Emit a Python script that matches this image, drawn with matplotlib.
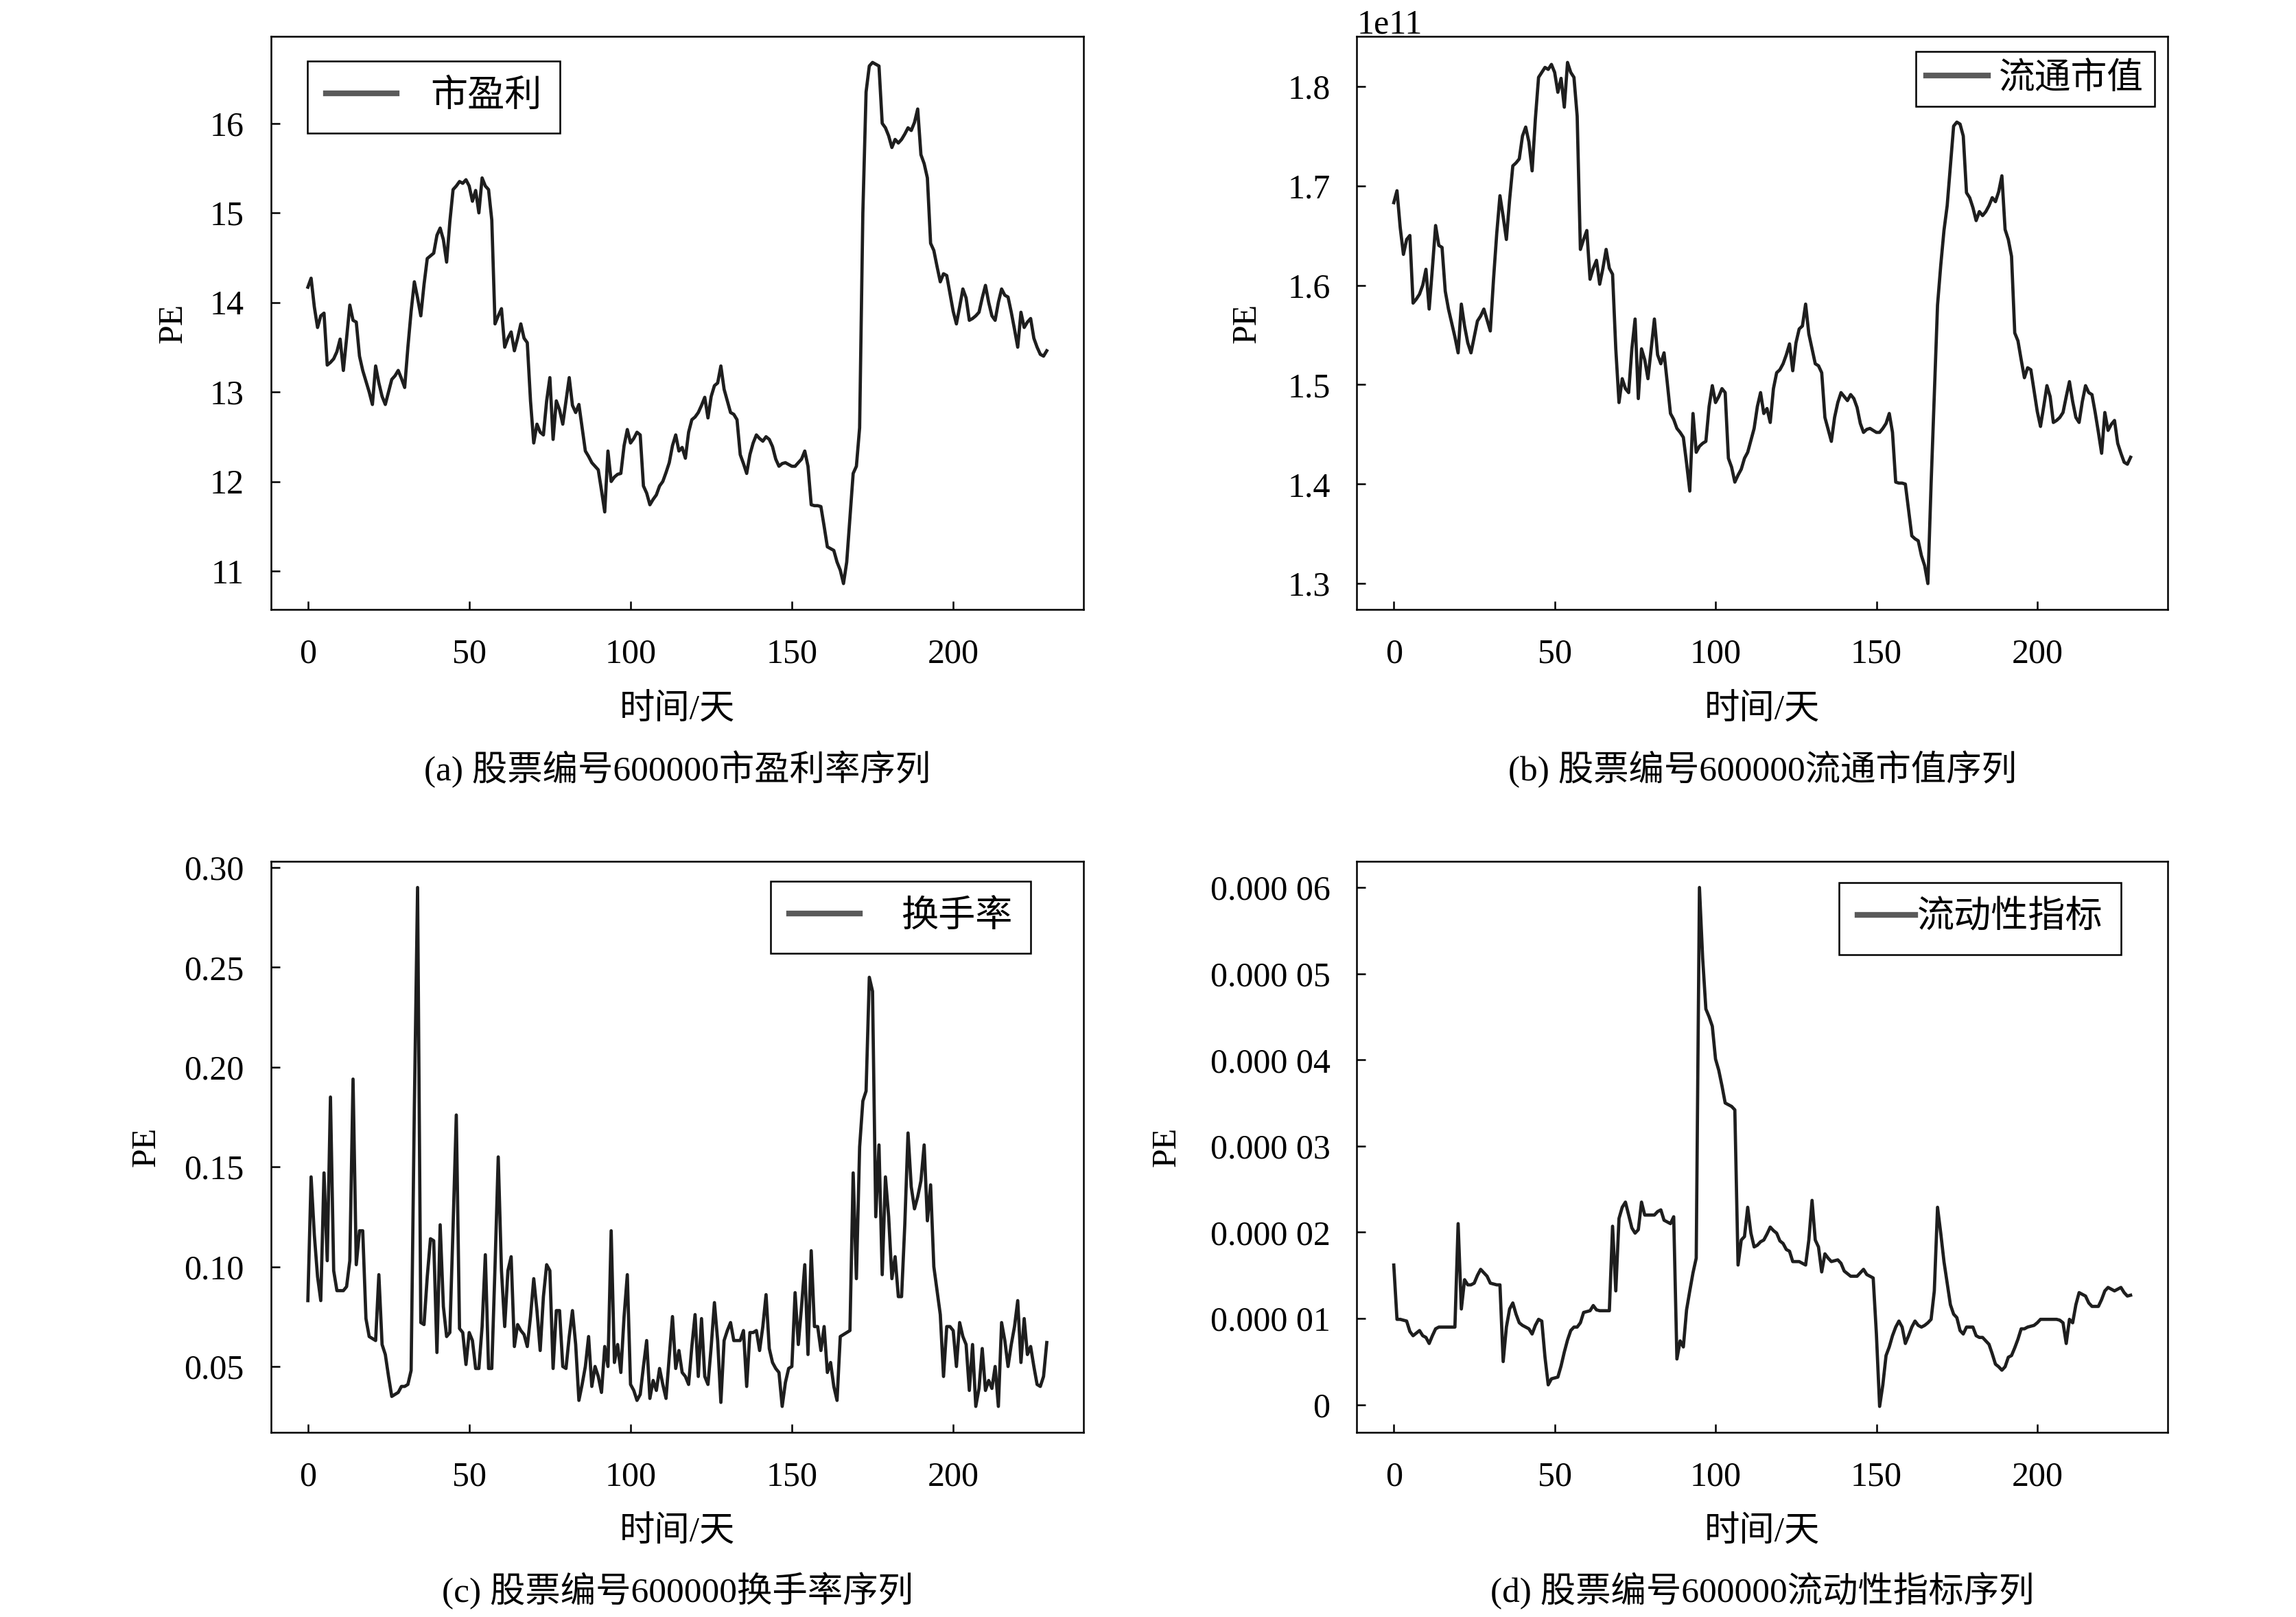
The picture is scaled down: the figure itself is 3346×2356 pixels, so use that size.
import matplotlib.pyplot as plt
import numpy as np
from matplotlib.lines import Line2D
from matplotlib.ticker import FuncFormatter, MultipleLocator

plt.rcParams['font.family'] = ['Liberation Serif', 'Noto Sans CJK SC']
plt.rcParams['axes.unicode_minus'] = False

FS = 36
CJK_FS = 37

# 市盈率 (PE), one value per trading day
pe = [
    14.17, 14.27, 13.95, 13.72, 13.85, 13.88, 13.30, 13.33, 13.37, 13.45,
    13.59, 13.24, 13.60, 13.97, 13.80, 13.78, 13.40, 13.24, 13.12, 13.00,
    12.86, 13.29, 13.10, 12.95, 12.86, 13.00, 13.14, 13.18, 13.24, 13.15,
    13.05, 13.50, 13.90, 14.23, 14.05, 13.85, 14.20, 14.49, 14.52, 14.55,
    14.75, 14.83, 14.70, 14.45, 14.90, 15.26, 15.30, 15.35, 15.33, 15.37,
    15.30, 15.13, 15.25, 15.00, 15.39, 15.30, 15.26, 14.92, 13.76, 13.85,
    13.93, 13.50, 13.60, 13.67, 13.46, 13.60, 13.76, 13.60, 13.55, 12.90,
    12.43, 12.64, 12.55, 12.52, 12.90, 13.16, 12.47, 12.90, 12.80, 12.64,
    12.90, 13.16, 12.85, 12.77, 12.86, 12.60, 12.34, 12.28, 12.21, 12.17,
    12.13, 11.90, 11.66, 12.34, 12.00, 12.05, 12.08, 12.09, 12.40, 12.58,
    12.43, 12.48, 12.55, 12.52, 11.95, 11.87, 11.74, 11.80, 11.85, 11.95,
    12.00, 12.10, 12.21, 12.40, 12.52, 12.34, 12.38, 12.26, 12.55, 12.69,
    12.72, 12.77, 12.85, 12.94, 12.71, 12.95, 13.07, 13.10, 13.29, 13.03,
    12.90, 12.77, 12.75, 12.69, 12.30, 12.20, 12.09, 12.30, 12.43, 12.52,
    12.48, 12.45, 12.50, 12.47, 12.39, 12.25, 12.17, 12.20, 12.21, 12.19,
    12.17, 12.17, 12.21, 12.25, 12.34, 12.17, 11.74, 11.73, 11.73, 11.72,
    11.50, 11.27, 11.25, 11.23, 11.10, 11.01, 10.86, 11.10, 11.60, 12.09,
    12.17, 12.60, 15.00, 16.35, 16.64, 16.68, 16.66, 16.64, 16.00, 15.95,
    15.86, 15.73, 15.82, 15.78, 15.82, 15.88, 15.95, 15.92, 16.01, 16.16,
    15.65, 15.55, 15.39, 14.66, 14.58, 14.40, 14.23, 14.32, 14.30, 14.10,
    13.90, 13.76, 13.95, 14.15, 14.05, 13.80, 13.82, 13.85, 13.89, 14.05,
    14.19, 14.00, 13.85, 13.80, 14.00, 14.15, 14.08, 14.06, 13.89, 13.70,
    13.50, 13.89, 13.72, 13.78, 13.82, 13.60, 13.50, 13.42, 13.40, 13.46,
]

# 流通市值, in units of 1e11
market_value_e11 = [
    1.683, 1.695, 1.658, 1.631, 1.646, 1.650, 1.582, 1.586, 1.591, 1.600,
    1.616, 1.576, 1.617, 1.660, 1.640, 1.638, 1.594, 1.576, 1.562, 1.548,
    1.532, 1.581, 1.559, 1.542, 1.532, 1.548, 1.564, 1.569, 1.576, 1.565,
    1.554, 1.606, 1.652, 1.690, 1.669, 1.646, 1.686, 1.720, 1.723, 1.727,
    1.750, 1.759, 1.744, 1.715, 1.767, 1.809, 1.814, 1.819, 1.817, 1.822,
    1.814, 1.794, 1.808, 1.779, 1.824, 1.814, 1.809, 1.770, 1.636, 1.646,
    1.655, 1.606, 1.617, 1.625, 1.601, 1.617, 1.636, 1.617, 1.611, 1.536,
    1.482, 1.506, 1.496, 1.492, 1.536, 1.566, 1.486, 1.536, 1.525, 1.506,
    1.536, 1.566, 1.530, 1.521, 1.532, 1.502, 1.471, 1.465, 1.456, 1.452,
    1.447, 1.421, 1.393, 1.471, 1.432, 1.438, 1.441, 1.443, 1.478, 1.499,
    1.482, 1.488, 1.496, 1.492, 1.426, 1.417, 1.402, 1.409, 1.415, 1.426,
    1.432, 1.444, 1.456, 1.478, 1.492, 1.471, 1.476, 1.462, 1.496, 1.512,
    1.515, 1.521, 1.530, 1.541, 1.514, 1.542, 1.556, 1.559, 1.581, 1.551,
    1.536, 1.521, 1.519, 1.512, 1.467, 1.455, 1.443, 1.467, 1.482, 1.492,
    1.488, 1.484, 1.490, 1.486, 1.477, 1.461, 1.452, 1.455, 1.456, 1.454,
    1.452, 1.452, 1.456, 1.461, 1.471, 1.452, 1.402, 1.401, 1.401, 1.400,
    1.374, 1.348, 1.345, 1.343, 1.328, 1.318, 1.300, 1.400, 1.490, 1.580,
    1.620, 1.655, 1.680, 1.720, 1.760, 1.764, 1.762, 1.750, 1.693, 1.688,
    1.678, 1.665, 1.674, 1.670, 1.674, 1.680, 1.688, 1.684, 1.694, 1.710,
    1.656, 1.646, 1.629, 1.552, 1.544, 1.525, 1.507, 1.517, 1.515, 1.494,
    1.473, 1.458, 1.478, 1.499, 1.488, 1.462, 1.464, 1.467, 1.472, 1.488,
    1.503, 1.483, 1.467, 1.462, 1.483, 1.499, 1.492, 1.490, 1.472, 1.452,
    1.431, 1.472, 1.454, 1.460, 1.464, 1.441, 1.431, 1.422, 1.420, 1.427,
]

# 换手率
turnover = [
    0.083, 0.145, 0.116, 0.095, 0.083, 0.147, 0.103, 0.185, 0.098, 0.088,
    0.088, 0.088, 0.090, 0.103, 0.194, 0.101, 0.118, 0.118, 0.074, 0.065,
    0.064, 0.063, 0.096, 0.061, 0.056, 0.045, 0.035, 0.036, 0.037, 0.040,
    0.040, 0.041, 0.048, 0.180, 0.290, 0.072, 0.071, 0.095, 0.114, 0.113,
    0.057, 0.121, 0.080, 0.065, 0.067, 0.120, 0.176, 0.069, 0.067, 0.051,
    0.067, 0.063, 0.049, 0.049, 0.070, 0.106, 0.049, 0.049, 0.100, 0.155,
    0.098, 0.070, 0.098, 0.105, 0.060, 0.071, 0.068, 0.066, 0.060, 0.075,
    0.094, 0.078, 0.058, 0.085, 0.101, 0.098, 0.049, 0.078, 0.078, 0.050,
    0.049, 0.065, 0.078, 0.061, 0.033, 0.041, 0.050, 0.065, 0.040, 0.050,
    0.045, 0.037, 0.060, 0.050, 0.118, 0.052, 0.061, 0.047, 0.075, 0.096,
    0.041, 0.038, 0.033, 0.036, 0.050, 0.063, 0.034, 0.043, 0.038, 0.049,
    0.041, 0.034, 0.055, 0.075, 0.049, 0.058, 0.047, 0.045, 0.041, 0.060,
    0.076, 0.045, 0.074, 0.045, 0.041, 0.060, 0.082, 0.063, 0.032, 0.063,
    0.068, 0.072, 0.063, 0.063, 0.063, 0.068, 0.040, 0.067, 0.067, 0.068,
    0.058, 0.070, 0.086, 0.059, 0.052, 0.049, 0.047, 0.030, 0.042, 0.049,
    0.050, 0.087, 0.061, 0.080, 0.101, 0.056, 0.108, 0.070, 0.070, 0.058,
    0.070, 0.047, 0.052, 0.040, 0.033, 0.065, 0.066, 0.067, 0.068, 0.147,
    0.094, 0.160, 0.183, 0.188, 0.245, 0.238, 0.125, 0.161, 0.096, 0.145,
    0.125, 0.094, 0.105, 0.085, 0.085, 0.121, 0.167, 0.140, 0.129, 0.135,
    0.143, 0.161, 0.123, 0.141, 0.100, 0.088, 0.076, 0.045, 0.070, 0.070,
    0.068, 0.050, 0.072, 0.065, 0.061, 0.038, 0.061, 0.030, 0.039, 0.059,
    0.038, 0.043, 0.039, 0.050, 0.030, 0.072, 0.063, 0.050, 0.061, 0.070,
    0.083, 0.052, 0.074, 0.056, 0.060, 0.050, 0.041, 0.040, 0.045, 0.062,
]

# 流动性指标, in units of 1e-5
liquidity_e5 = [
    1.62, 0.99, 0.99, 0.98, 0.97, 0.85, 0.80, 0.83, 0.86, 0.80,
    0.78, 0.71, 0.80, 0.88, 0.90, 0.90, 0.90, 0.90, 0.90, 0.90,
    2.10, 1.11, 1.45, 1.39, 1.39, 1.41, 1.50, 1.57, 1.53, 1.49,
    1.41, 1.40, 1.39, 1.39, 0.50, 0.90, 1.11, 1.18, 1.05, 0.95,
    0.92, 0.90, 0.88, 0.82, 0.92, 0.99, 0.97, 0.55, 0.23, 0.30,
    0.31, 0.32, 0.45, 0.61, 0.75, 0.86, 0.90, 0.90, 0.95, 1.07,
    1.08, 1.09, 1.15, 1.10, 1.09, 1.09, 1.09, 1.09, 2.07, 1.32,
    2.16, 2.29, 2.35, 2.20, 2.05, 1.99, 2.03, 2.35, 2.20, 2.20,
    2.20, 2.20, 2.24, 2.26, 2.14, 2.12, 2.10, 2.18, 0.53, 0.74,
    0.67, 1.10, 1.32, 1.53, 1.70, 6.00, 5.18, 4.59, 4.50, 4.39,
    4.01, 3.88, 3.70, 3.50, 3.48, 3.46, 3.42, 1.62, 1.91, 1.95,
    2.29, 1.99, 1.83, 1.85, 1.89, 1.91, 1.98, 2.06, 2.02, 1.99,
    1.90, 1.87, 1.80, 1.78, 1.66, 1.66, 1.66, 1.64, 1.62, 1.91,
    2.37, 1.91, 1.83, 1.54, 1.75, 1.70, 1.66, 1.67, 1.68, 1.64,
    1.55, 1.52, 1.49, 1.49, 1.49, 1.53, 1.57, 1.51, 1.49, 1.47,
    0.82, -0.02, 0.23, 0.57, 0.67, 0.80, 0.90, 0.97, 0.90, 0.71,
    0.80, 0.90, 0.97, 0.92, 0.90, 0.92, 0.95, 0.99, 1.32, 2.29,
    1.99, 1.66, 1.41, 1.16, 1.05, 1.01, 0.86, 0.82, 0.90, 0.90,
    0.90, 0.80, 0.78, 0.78, 0.74, 0.70, 0.59, 0.47, 0.44, 0.40,
    0.44, 0.55, 0.57, 0.66, 0.76, 0.88, 0.88, 0.90, 0.91, 0.92,
    0.95, 0.99, 0.99, 0.99, 0.99, 0.99, 0.99, 0.98, 0.95, 0.71,
    0.99, 0.95, 1.16, 1.30, 1.28, 1.26, 1.18, 1.14, 1.14, 1.14,
    1.22, 1.32, 1.36, 1.34, 1.32, 1.34, 1.36, 1.30, 1.26, 1.27,
]

legend_labels = ['市盈利', '流通市值', '换手率', '流动性指标']
captions = ['(a) 股票编号600000市盈利率序列', '(b) 股票编号600000流通市值序列',
            '(c) 股票编号600000换手率序列', '(d) 股票编号600000流动性指标序列']


def liq_fmt(v, pos):
    if abs(v) < 1e-12:
        return '0'
    s = f'{v:.5f}'
    return s[:5] + ' ' + s[5:]


fig = plt.figure(figsize=(33.46, 23.56), dpi=100)

rects = [
    [0.118, 0.623, 0.354, 0.3545],
    [0.591, 0.623, 0.353, 0.3545],
    [0.118, 0.1142, 0.354, 0.353],
    [0.591, 0.1142, 0.353, 0.353],
]
series = [np.array(pe), np.array(market_value_e11) * 1e11,
          np.array(turnover), np.array(liquidity_e5) * 1e-5]
# loc, anchor, handletextpad, handlelength, borderpad, fontsize
legend_opts = [('upper left', (0.045, 0.957), 0.9, 1.9, 0.5, 39),
               ('upper right', (0.984, 0.974), 0.3, 1.7, 0.3, 38),
               ('upper right', (0.935, 0.965), 1.1, 1.9, 0.5, 39),
               ('upper right', (0.943, 0.963), 0.05, 1.55, 0.5, 39)]
ylabel_x = [-0.101, -0.116, -0.134, -0.215]

for i in range(4):
    ax = fig.add_axes(rects[i])
    y = series[i]
    ax.plot(np.arange(len(y)), y, color='#1e1e1e', linewidth=3.4)

    for sp in ax.spines.values():
        sp.set_linewidth(1.8)
    ax.tick_params(direction='in', length=9, width=1.8, labelsize=FS)
    ax.tick_params(axis='x', pad=30)
    ax.tick_params(axis='y', pad=28)
    ax.set_xticks([0, 50, 100, 150, 200])

    if i == 1:
        ax.yaxis.get_offset_text().set_fontsize(FS)
    if i == 3:
        ax.yaxis.set_major_locator(MultipleLocator(1e-5))
        ax.yaxis.set_major_formatter(FuncFormatter(liq_fmt))

    ax.set_ylabel('PE', fontsize=FS)
    ax.yaxis.set_label_coords(ylabel_x[i], 0.5)
    ax.set_xlabel('时间/天', fontsize=CJK_FS)
    ax.xaxis.set_label_coords(0.5, -0.146)
    ax.text(0.5, -0.278, captions[i], transform=ax.transAxes,
            ha='center', va='center', fontsize=CJK_FS)

    loc, anchor, tpad, hlen, bpad, lfs = legend_opts[i]
    handle = Line2D([], [], color='#5a5a5a', linewidth=6)
    leg = ax.legend([handle], [legend_labels[i]], loc=loc, bbox_to_anchor=anchor,
                    borderaxespad=0, fontsize=lfs, handlelength=hlen,
                    handletextpad=tpad, fancybox=False, framealpha=1,
                    edgecolor='black', borderpad=bpad)
    leg.get_frame().set_linewidth(1.8)

fig.savefig('out.png', dpi=100, facecolor='white')
plt.close(fig)
